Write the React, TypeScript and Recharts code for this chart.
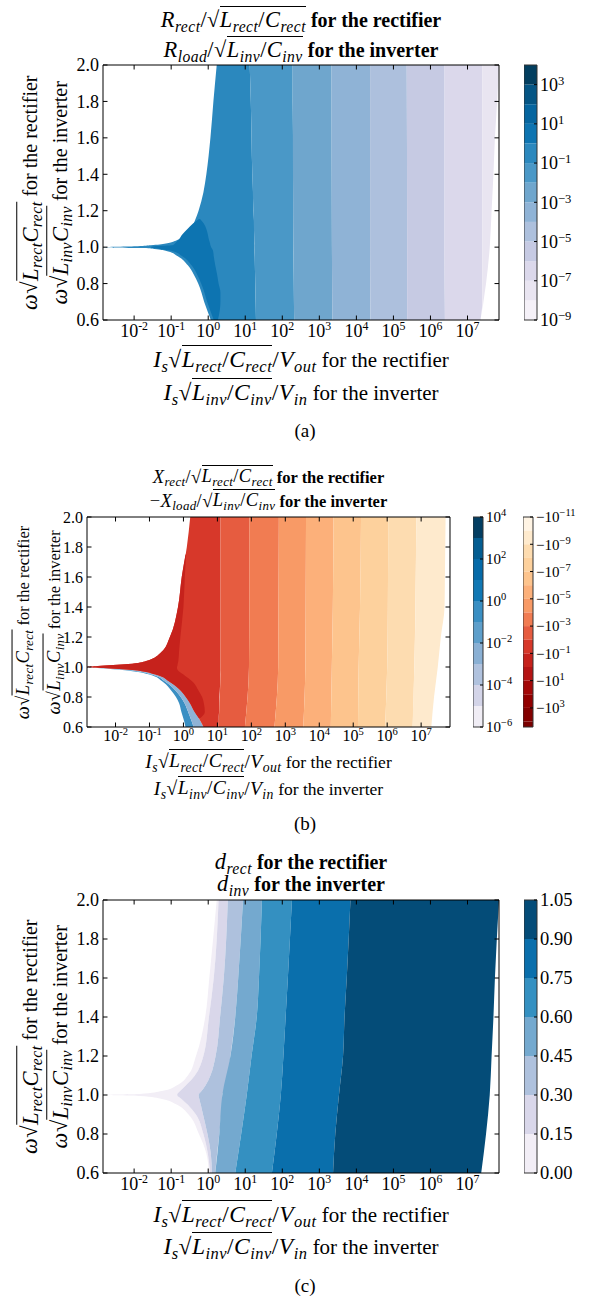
import React from "react";
import { ComposedChart, Area, XAxis, YAxis, ReferenceLine, ReferenceArea } from "recharts";

const SERIF = "'Liberation Serif', 'Times New Roman', Times, 'DejaVu Serif', serif";

type Row = [number, number, number]; // [y, left x, right x], x in log10
type Band = { color: string; rows: Row[] };
type Box = { x: number; y: number; w: number; h: number };

// axes shared by the three panels
const X_MIN = -2.84;
const X_MAX = 7.85;
const X_MAJOR = [-2, -1, 0, 1, 2, 3, 4, 5, 6, 7];
const DECADES = [-3, -2, -1, 0, 1, 2, 3, 4, 5, 6, 7];
const MULTS = [2, 3, 4, 5, 6, 7, 8, 9];
const X_MINOR = DECADES.flatMap((d) => MULTS.map((m) => d + Math.log10(m))).filter(
  (v) => v > X_MIN && v < X_MAX
);
const Y_TICKS = [0.6, 0.8, 1.0, 1.2, 1.4, 1.6, 1.8, 2.0];

// ---------- panel (a): R / sqrt(L/C) ----------
const A_LEVELS = [-9, -8, -7, -6, -5, -4, -3, -2, -1, 0, 1, 2, 3, 4];
const A_TICKS = [-9, -7, -5, -3, -1, 1, 3];
const A_COLORS = [
  "#f5f1f8", "#e9e5f1", "#dbd8eb", "#c6cae3", "#adc0dd", "#8fb3d6", "#6fa6cd",
  "#4a98c7", "#2b88be", "#0d74b1", "#05659f", "#045584", "#023e5f",
];
const A_B8: Row[] = [
  [0.6, 0.07, 1.29], [0.65, -0.02, 1.285], [0.7, -0.11, 1.28], [0.75, -0.18, 1.275],
  [0.8, -0.27, 1.27], [0.85, -0.39, 1.265], [0.9, -0.55, 1.26], [0.95, -0.82, 1.255],
  [0.98, -1.15, 1.25], [0.99, -1.45, 1.25], [0.995, -1.8, 1.25], [1.0, -2.84, 1.25],
  [1.005, -1.9, 1.25], [1.01, -1.55, 1.25], [1.02, -1.14, 1.245], [1.04, -0.82, 1.245],
  [1.07, -0.61, 1.24], [1.1, -0.47, 1.24], [1.15, -0.35, 1.235], [1.2, -0.26, 1.22],
  [1.3, -0.13, 1.21], [1.4, -0.05, 1.19], [1.6, 0.06, 1.17], [1.8, 0.14, 1.15], [2.0, 0.23, 1.12],
];
const A_LOBE: Row[] = [
  [0.6, 0.15, 0.26], [0.65, 0.06, 0.31], [0.7, -0.03, 0.33], [0.75, -0.1, 0.33],
  [0.8, -0.19, 0.28], [0.85, -0.3, 0.24], [0.9, -0.45, 0.19], [0.95, -0.7, 0.15],
  [0.98, -1.0, 0.13], [0.99, -1.3, 0.11], [1.0, -1.55, 0.08], [1.005, -1.45, 0.07],
  [1.01, -0.96, 0.06], [1.02, -0.9, 0.05], [1.04, -0.8, 0.02], [1.07, -0.7, -0.01],
  [1.1, -0.56, -0.05], [1.13, -0.41, -0.12], [1.155, -0.25, -0.22],
];
const A_B7: Row[] = [
  [0.6, 1.29, 2.32], [0.8, 1.27, 2.31], [1.0, 1.25, 2.3], [1.2, 1.22, 2.3],
  [1.4, 1.19, 2.29], [1.6, 1.17, 2.29], [1.8, 1.15, 2.28], [2.0, 1.12, 2.28],
];
const A_B6: Row[] = [[0.6, 2.32, 3.35], [1.0, 2.3, 3.34], [2.0, 2.28, 3.33]];
const A_B5: Row[] = [[0.6, 3.35, 4.38], [1.0, 3.34, 4.37], [2.0, 3.33, 4.37]];
const A_B4: Row[] = [[0.6, 4.38, 5.37], [1.0, 4.37, 5.37], [2.0, 4.37, 5.36]];
const A_B3: Row[] = [[0.6, 5.37, 6.39], [1.0, 5.37, 6.38], [2.0, 5.36, 6.38]];
const A_B2: Row[] = [[0.6, 6.39, 7.35], [0.7, 6.39, 7.4], [1.0, 6.38, 7.4], [2.0, 6.38, 7.4]];
const A_B1: Row[] = [
  [0.65, 7.4, 7.4], [0.7, 7.4, 7.43], [0.8, 7.4, 7.5], [1.0, 7.4, 7.6], [1.2, 7.4, 7.65],
  [1.4, 7.4, 7.7], [1.6, 7.4, 7.74], [1.8, 7.4, 7.8], [2.0, 7.4, 7.85],
];

// ---------- panel (b): X / sqrt(L/C) ----------
const B_POS_LEVELS = [-6, -5, -4, -3, -2, -1, 0, 1, 2, 3, 4];
const B_POS_TICKS = [-6, -4, -2, 0, 2, 4];
const B_POS_COLORS = [
  "#f0edf5", "#d3d4e8", "#b0c2de", "#8ab0d4", "#5e9fcb", "#3a8fc3", "#1178b4",
  "#066aa8", "#045d91", "#033e62",
];
const B_NEG_LEVELS = [-11, -10, -9, -8, -7, -6, -5, -4, -3, -2, -1, 0, 1, 2, 3, 4, 4.4];
const B_NEG_TICKS = [-11, -9, -7, -5, -3, -1, 1, 3];
const B_NEG_COLORS = [
  "#fff4e4", "#feeacd", "#fddcb0", "#fdd19d", "#fdc48d", "#fcb07a", "#f89a66", "#f17c52",
  "#e65c40", "#d7382a", "#c6221c", "#b51414", "#a30808", "#920000", "#830000", "#7a0000",
];
const B_BLUE_OUT: Row[] = [
  [0.6, 0.06, 0.3], [0.64, 0.02, 0.24], [0.67, -0.02, 0.19], [0.7, -0.06, 0.14],
  [0.76, -0.13, 0.03], [0.8, -0.22, -0.08], [0.84, -0.35, -0.22], [0.9, -0.6, -0.52],
  [0.95, -1.0, -0.93], [0.98, -1.8, -1.65], [0.993, -2.52, -2.45], [1.0, -2.84, -2.84],
];
const B_BLUE_IN: Row[] = [
  [0.6, 0.3, 0.59], [0.64, 0.24, 0.5], [0.67, 0.19, 0.42], [0.7, 0.14, 0.33],
  [0.76, 0.03, 0.19], [0.8, -0.08, 0.07], [0.84, -0.22, -0.07], [0.9, -0.52, -0.4],
  [0.95, -0.93, -0.82], [0.98, -1.65, -1.5], [0.993, -2.45, -2.35], [1.0, -2.84, -2.84],
];
const B_R1: Row[] = [
  [0.6, 0.59, 1.03], [0.64, 0.5, 1.04], [0.67, 0.42, 1.04], [0.7, 0.33, 1.05],
  [0.76, 0.19, 1.06], [0.8, 0.07, 1.06], [0.84, -0.07, 1.07], [0.9, -0.4, 1.08],
  [0.95, -0.82, 1.08], [0.98, -1.5, 1.09], [0.993, -2.35, 1.09], [1.0, -2.84, 1.09],
  [1.007, -2.52, 1.09], [1.02, -1.63, 1.09], [1.04, -1.1, 1.09], [1.1, -0.65, 1.09],
  [1.2, -0.4, 1.09], [1.4, -0.16, 1.09], [1.6, -0.05, 1.09], [1.8, 0.1, 1.09], [2.0, 0.2, 1.09],
];
const B_DARK: Row[] = [
  [0.66, 0.45, 0.5], [0.7, 0.33, 0.63], [0.76, 0.19, 0.6], [0.8, 0.07, 0.55],
  [0.84, -0.07, 0.45], [0.9, -0.4, 0.28], [0.95, -0.82, 0.0], [0.98, -1.5, -0.17],
  [0.993, -2.35, -0.19], [1.0, -2.84, -0.19], [1.007, -2.52, -0.18], [1.02, -1.63, -0.17],
  [1.04, -1.1, -0.15], [1.1, -0.65, -0.13], [1.2, -0.4, -0.09], [1.4, -0.16, 0.0],
  [1.6, -0.05, 0.04], [1.75, 0.06, 0.08],
];
const B_R2: Row[] = [[0.6, 1.03, 1.81], [1.0, 1.09, 1.93], [1.4, 1.09, 1.94], [2.0, 1.09, 1.94]];
const B_R3: Row[] = [[0.6, 1.81, 2.68], [1.0, 1.93, 2.79], [1.4, 1.94, 2.8], [2.0, 1.94, 2.81]];
const B_R4: Row[] = [[0.6, 2.68, 3.53], [1.0, 2.79, 3.59], [1.4, 2.8, 3.6], [2.0, 2.81, 3.61]];
const B_R5: Row[] = [[0.6, 3.53, 4.34], [1.0, 3.59, 4.37], [1.4, 3.6, 4.4], [2.0, 3.61, 4.42]];
const B_R6: Row[] = [[0.6, 4.34, 5.14], [1.0, 4.37, 5.16], [1.4, 4.4, 5.2], [2.0, 4.42, 5.23]];
const B_R7: Row[] = [[0.6, 5.14, 5.94], [1.0, 5.16, 6.0], [1.4, 5.2, 6.02], [2.0, 5.23, 6.03]];
const B_R8: Row[] = [[0.6, 5.94, 6.75], [1.0, 6.0, 6.8], [1.4, 6.02, 6.83], [2.0, 6.03, 6.86]];
const B_R9: Row[] = [
  [0.6, 6.75, 7.3], [0.8, 6.77, 7.38], [1.0, 6.8, 7.49], [1.2, 6.82, 7.58],
  [1.4, 6.83, 7.69], [1.6, 6.84, 7.7], [2.0, 6.86, 7.72],
];

// ---------- panel (c): duty ratio d ----------
const C_LEVELS = [0, 0.15, 0.3, 0.45, 0.6, 0.75, 0.9, 1.05];
const C_COLORS = ["#f2eef6", "#d9d7ea", "#aec1dd", "#74a9cf", "#3490c1", "#0a6fac", "#044c78"];
const C_B0: Row[] = [
  [0.6, 0.02, 0.05], [0.7, -0.05, -0.01], [0.8, -0.25, -0.13], [0.9, -0.53, -0.33],
  [0.95, -0.84, -0.55], [0.98, -1.25, -0.72], [0.995, -1.85, -0.82], [1.0, -2.84, -0.84],
  [1.005, -1.85, -0.82], [1.02, -1.25, -0.76], [1.05, -0.84, -0.6], [1.1, -0.55, -0.36],
  [1.2, -0.33, -0.13], [1.4, -0.08, 0.02], [1.6, 0.03, 0.15], [2.0, 0.23, 0.28],
];
const C_B1: Row[] = [
  [0.6, 0.05, 0.1], [0.7, -0.01, 0.07], [0.8, -0.13, -0.02], [0.9, -0.33, -0.14],
  [0.95, -0.55, -0.2], [0.98, -0.72, -0.24], [1.0, -0.84, -0.26], [1.02, -0.76, -0.18],
  [1.05, -0.6, -0.07], [1.1, -0.36, 0.06], [1.2, -0.13, 0.2], [1.4, 0.02, 0.32],
  [1.6, 0.15, 0.42], [2.0, 0.28, 0.53],
];
const C_B2: Row[] = [
  [0.6, 0.1, 0.19], [0.7, 0.07, 0.24], [0.8, -0.02, 0.3], [0.9, -0.14, 0.35],
  [0.95, -0.2, 0.37], [0.98, -0.24, 0.38], [1.0, -0.26, 0.38], [1.02, -0.18, 0.42],
  [1.05, -0.07, 0.46], [1.1, 0.06, 0.53], [1.2, 0.2, 0.6], [1.4, 0.32, 0.73],
  [1.6, 0.42, 0.81], [2.0, 0.53, 0.94],
];
const C_B3: Row[] = [
  [0.6, 0.19, 0.73], [0.8, 0.3, 0.89], [1.0, 0.38, 1.04], [1.2, 0.6, 1.17],
  [1.4, 0.73, 1.31], [1.6, 0.81, 1.37], [2.0, 0.94, 1.45],
];
const C_B4: Row[] = [
  [0.6, 0.73, 1.72], [0.8, 0.89, 1.85], [1.0, 1.04, 1.96], [1.2, 1.17, 2.03],
  [1.4, 1.31, 2.09], [1.6, 1.37, 2.15], [2.0, 1.45, 2.26],
];
const C_B5: Row[] = [
  [0.6, 1.72, 3.37], [0.8, 1.85, 3.43], [1.0, 1.96, 3.53], [1.2, 2.03, 3.64],
  [1.4, 2.09, 3.68], [1.6, 2.15, 3.74], [2.0, 2.26, 3.84],
];
const C_B6: Row[] = [
  [0.6, 3.37, 7.37], [0.8, 3.43, 7.5], [1.0, 3.53, 7.6], [1.2, 3.64, 7.65],
  [1.4, 3.68, 7.7], [1.6, 3.74, 7.74], [2.0, 3.84, 7.85],
];

const BANDS_A: Band[] = [
  { color: A_COLORS[8], rows: A_B8 },
  { color: A_COLORS[9], rows: A_LOBE },
  { color: A_COLORS[7], rows: A_B7 },
  { color: A_COLORS[6], rows: A_B6 },
  { color: A_COLORS[5], rows: A_B5 },
  { color: A_COLORS[4], rows: A_B4 },
  { color: A_COLORS[3], rows: A_B3 },
  { color: A_COLORS[2], rows: A_B2 },
  { color: A_COLORS[1], rows: A_B1 },
];
const BANDS_B: Band[] = [
  { color: "#3a8fc3", rows: B_BLUE_OUT },
  { color: "#8fb3d6", rows: B_BLUE_IN },
  { color: B_NEG_COLORS[9], rows: B_R1 },
  { color: B_NEG_COLORS[10], rows: B_DARK },
  { color: B_NEG_COLORS[8], rows: B_R2 },
  { color: B_NEG_COLORS[7], rows: B_R3 },
  { color: B_NEG_COLORS[6], rows: B_R4 },
  { color: B_NEG_COLORS[5], rows: B_R5 },
  { color: B_NEG_COLORS[4], rows: B_R6 },
  { color: B_NEG_COLORS[3], rows: B_R7 },
  { color: B_NEG_COLORS[2], rows: B_R8 },
  { color: B_NEG_COLORS[1], rows: B_R9 },
];
const BANDS_C: Band[] = [
  { color: C_COLORS[0], rows: C_B0 },
  { color: C_COLORS[1], rows: C_B1 },
  { color: C_COLORS[2], rows: C_B2 },
  { color: C_COLORS[3], rows: C_B3 },
  { color: C_COLORS[4], rows: C_B4 },
  { color: C_COLORS[5], rows: C_B5 },
  { color: C_COLORS[6], rows: C_B6 },
];

const PA: Box = { x: 103, y: 65, w: 396, h: 255 };
const PB: Box = { x: 87, y: 517, w: 363, h: 210 };
const PC: Box = { x: 103, y: 900, w: 396, h: 273 };

const minus = (v: number) => (v < 0 ? `\u2212${Math.abs(v)}` : `${v}`);

function Contour({ box, bands, fs, xOff }: { box: Box; bands: Band[]; fs: number; xOff: number }) {
  const ML = 60, MT = 14, MR = 6, XH = 30;
  const { w, h } = box;
  const majorTick = (p: any) => (
    <g>
      <line x1={p.x} x2={p.x} y1={p.y} y2={p.y - 4.5} stroke="#000" />
      <line x1={p.x} x2={p.x} y1={p.y - h} y2={p.y - h + 4.5} stroke="#000" />
      <text x={p.x} y={p.y + xOff} textAnchor="middle" fontSize={fs} fontFamily={SERIF} fill="#000">
        10<tspan dy={-fs * 0.4} fontSize={fs * 0.66}>{p.payload.value}</tspan>
      </text>
    </g>
  );
  const minorTick = (p: any) => (
    <g>
      <line x1={p.x} x2={p.x} y1={p.y} y2={p.y + 2.5} stroke="#000" />
      <line x1={p.x} x2={p.x} y1={p.y + h} y2={p.y + h - 2.5} stroke="#000" />
    </g>
  );
  const yTick = (p: any) => (
    <g>
      <line x1={p.x} x2={p.x + 4.5} y1={p.y} y2={p.y} stroke="#000" />
      <line x1={p.x + w} x2={p.x + w - 4.5} y1={p.y} y2={p.y} stroke="#000" />
      <text x={p.x - 4} y={p.y} dy="0.35em" textAnchor="end" fontSize={fs} fontFamily={SERIF} fill="#000">
        {Number(p.payload.value).toFixed(1)}
      </text>
    </g>
  );
  return (
    <div style={{ position: "absolute", left: box.x - ML, top: box.y - MT }}>
      <ComposedChart
        layout="vertical"
        width={ML + w + MR}
        height={MT + h + XH}
        margin={{ top: MT, right: MR, bottom: 0, left: 0 }}
      >
        {bands.map((b, i) => (
          <Area
            key={i}
            xAxisId="b"
            yAxisId="l"
            data={b.rows.map(([y, lo, hi]) => ({ y, v: [lo, hi] }))}
            dataKey="v"
            type="monotone"
            fill={b.color}
            fillOpacity={1}
            stroke="none"
            dot={false}
            activeDot={false}
            isAnimationActive={false}
          />
        ))}
        <XAxis
          xAxisId="b"
          type="number"
          orientation="bottom"
          domain={[X_MIN, X_MAX]}
          allowDataOverflow
          ticks={X_MAJOR}
          interval={0}
          height={XH}
          tickSize={0}
          tickMargin={0}
          tickLine={false}
          axisLine={{ stroke: "#000" }}
          tick={majorTick}
        />
        <XAxis
          xAxisId="t"
          type="number"
          orientation="top"
          domain={[X_MIN, X_MAX]}
          allowDataOverflow
          ticks={X_MINOR}
          interval={0}
          height={0}
          tickSize={0}
          tickMargin={0}
          tickLine={false}
          axisLine={false}
          tick={minorTick}
        />
        <YAxis
          yAxisId="l"
          type="number"
          dataKey="y"
          reversed
          domain={[0.6, 2.0]}
          allowDataOverflow
          ticks={Y_TICKS}
          interval={0}
          width={ML}
          tickSize={0}
          tickMargin={0}
          tickLine={false}
          axisLine={{ stroke: "#000" }}
          tick={yTick}
        />
        <ReferenceLine xAxisId="b" yAxisId="l" x={X_MAX} stroke="#000" ifOverflow="visible" />
        <ReferenceLine xAxisId="b" yAxisId="l" y={2.0} stroke="#000" ifOverflow="visible" />
      </ComposedChart>
    </div>
  );
}

function ColorBar({
  box, levels, colors, ticks, fs, reversed, label,
}: {
  box: Box; levels: number[]; colors: string[]; ticks: number[]; fs: number; reversed?: boolean;
  label: (v: number) => React.ReactNode;
}) {
  const LW = 60, M = 12;
  const lo = levels[0], hi = levels[levels.length - 1];
  const tick = (p: any) => (
    <g>
      <line x1={p.x - 3} x2={p.x} y1={p.y} y2={p.y} stroke="#000" />
      <text x={p.x + 3} y={p.y} dy="0.35em" fontSize={fs} fontFamily={SERIF} fill="#000">
        {label(p.payload.value)}
      </text>
    </g>
  );
  return (
    <div style={{ position: "absolute", left: box.x, top: box.y - M }}>
      <ComposedChart width={box.w + LW} height={box.h + 2 * M} margin={{ top: M, bottom: M, left: 0, right: 0 }} data={[{ x: 0 }, { x: 1 }]}>
        <XAxis type="number" dataKey="x" domain={[0, 1]} hide />
        <YAxis
          type="number"
          orientation="right"
          domain={[lo, hi]}
          reversed={reversed}
          allowDataOverflow
          ticks={ticks}
          interval={0}
          width={LW}
          tickSize={0}
          tickMargin={0}
          tickLine={false}
          axisLine={false}
          tick={tick}
        />
        {colors.map((c, i) => (
          <ReferenceArea key={i} y1={levels[i]} y2={levels[i + 1]} fill={c} fillOpacity={1} stroke="none" ifOverflow="visible" />
        ))}
        <ReferenceArea y1={lo} y2={hi} fill="none" stroke="#333" strokeWidth={1} ifOverflow="visible" />
      </ComposedChart>
    </div>
  );
}

// ---------- text helpers ----------
const Sub = ({ c }: { c: string }) => (
  <i style={{ fontSize: "0.7em", position: "relative", top: "0.3em" }}>{c}</i>
);
const Rad = ({ children }: { children: React.ReactNode }) => (
  <>
    <span>√</span>
    <span style={{ borderTop: "1.3px solid #000", paddingTop: "0.02em" }}>{children}</span>
  </>
);
const M = ({ children }: { children: React.ReactNode }) => (
  <span style={{ fontSize: "1.12em", letterSpacing: "0.02em" }}>{children}</span>
);

function HLine({ cx, base, size, children, w = 460 }: { cx: number; base: number; size: number; children: React.ReactNode; w?: number }) {
  return (
    <div
      style={{
        position: "absolute", left: cx - w / 2, top: base - 0.9375 * size, width: w,
        textAlign: "center", fontSize: size, lineHeight: `${1.2 * size}px`, whiteSpace: "nowrap",
        fontFamily: SERIF, color: "#000",
      }}
    >
      {children}
    </div>
  );
}

function VLine({ bx, cy, size, children, w = 360 }: { bx: number; cy: number; size: number; children: React.ReactNode; w?: number }) {
  const b = 0.9375 * size;
  return (
    <div
      style={{
        position: "absolute", left: bx - w / 2, top: cy - b, width: w, textAlign: "center",
        fontSize: size, lineHeight: `${1.2 * size}px`, whiteSpace: "nowrap", fontFamily: SERIF,
        transform: "rotate(-90deg)", transformOrigin: `${w / 2}px ${b}px`, color: "#000",
      }}
    >
      {children}
    </div>
  );
}

const XLab1 = () => (
  <>
    <M><i>I</i><Sub c="s" /><Rad><i>L</i><Sub c="rect" />/<i>C</i><Sub c="rect" /></Rad>/<i>V</i><Sub c="out" /></M> for the rectifier
  </>
);
const XLab2 = () => (
  <>
    <M><i>I</i><Sub c="s" /><Rad><i>L</i><Sub c="inv" />/<i>C</i><Sub c="inv" /></Rad>/<i>V</i><Sub c="in" /></M> for the inverter
  </>
);
const YLab1 = () => (
  <>
    <M><i>ω</i><Rad><i>L</i><Sub c="rect" /><i>C</i><Sub c="rect" /></Rad></M> for the rectifier
  </>
);
const YLab2 = () => (
  <>
    <M><i>ω</i><Rad><i>L</i><Sub c="inv" /><i>C</i><Sub c="inv" /></Rad></M> for the inverter
  </>
);

const pow10 = (v: number) => (
  <>
    10<tspan dy={-6} fontSize="0.7em">{minus(v)}</tspan>
  </>
);
const negPow10 = (v: number) => (
  <>
    {"\u221210"}<tspan dy={-6} fontSize="0.7em">{minus(v)}</tspan>
  </>
);

export default function App() {
  const cxA = PA.x + PA.w / 2;
  const cxB = PB.x + PB.w / 2;
  const cxC = PC.x + PC.w / 2;
  return (
    <div style={{ position: "absolute", left: 0, top: 0, width: 591, height: 1297, background: "#fff", fontFamily: SERIF }}>
      {/* (a) */}
      <HLine cx={cxA} base={27} size={20}>
        <M><i>R</i><Sub c="rect" />/<Rad><i>L</i><Sub c="rect" />/<i>C</i><Sub c="rect" /></Rad></M> <b>for the rectifier</b>
      </HLine>
      <HLine cx={cxA} base={57} size={20}>
        <M><i>R</i><Sub c="load" />/<Rad><i>L</i><Sub c="inv" />/<i>C</i><Sub c="inv" /></Rad></M> <b>for the inverter</b>
      </HLine>
      <Contour box={PA} bands={BANDS_A} fs={18} xOff={17} />
      <ColorBar box={{ x: 524, y: 65, w: 13, h: 255 }} levels={A_LEVELS} colors={A_COLORS} ticks={A_TICKS} fs={18} label={pow10} />
      <VLine bx={37} cy={PA.y + PA.h / 2} size={20}><YLab1 /></VLine>
      <VLine bx={67} cy={PA.y + PA.h / 2} size={20}><YLab2 /></VLine>
      <HLine cx={cxA} base={367} size={21}><XLab1 /></HLine>
      <HLine cx={cxA} base={400} size={21}><XLab2 /></HLine>
      <HLine cx={305} base={438} size={19}>(a)</HLine>

      {/* (b) */}
      <HLine cx={cxB} base={483} size={16.5}>
        <M><i>X</i><Sub c="rect" />/<Rad><i>L</i><Sub c="rect" />/<i>C</i><Sub c="rect" /></Rad></M> <b>for the rectifier</b>
      </HLine>
      <HLine cx={cxB} base={507} size={16.5}>
        <M>−<i>X</i><Sub c="load" />/<Rad><i>L</i><Sub c="inv" />/<i>C</i><Sub c="inv" /></Rad></M> <b>for the inverter</b>
      </HLine>
      <Contour box={PB} bands={BANDS_B} fs={16} xOff={14} />
      <ColorBar box={{ x: 473, y: 517, w: 10, h: 210 }} levels={B_POS_LEVELS} colors={B_POS_COLORS} ticks={B_POS_TICKS} fs={15} label={pow10} />
      <ColorBar box={{ x: 523, y: 517, w: 10, h: 210 }} levels={B_NEG_LEVELS} colors={B_NEG_COLORS} ticks={B_NEG_TICKS} fs={15} reversed label={negPow10} />
      <VLine bx={29} cy={PB.y + PB.h / 2} size={16.5}><YLab1 /></VLine>
      <VLine bx={60} cy={PB.y + PB.h / 2} size={16.5}><YLab2 /></VLine>
      <HLine cx={cxB} base={767} size={17.5}><XLab1 /></HLine>
      <HLine cx={cxB} base={794} size={17.5}><XLab2 /></HLine>
      <HLine cx={305} base={831} size={19}>(b)</HLine>

      {/* (c) */}
      <HLine cx={cxC} base={869} size={20}>
        <M><i>d</i><Sub c="rect" /></M> <b>for the rectifier</b>
      </HLine>
      <HLine cx={cxC} base={891} size={20}>
        <M><i>d</i><Sub c="inv" /></M> <b>for the inverter</b>
      </HLine>
      <Contour box={PC} bands={BANDS_C} fs={18} xOff={17} />
      <ColorBar
        box={{ x: 524, y: 900, w: 13, h: 273 }}
        levels={C_LEVELS}
        colors={C_COLORS}
        ticks={C_LEVELS}
        fs={18.5}
        label={(v) => v.toFixed(2)}
      />
      <VLine bx={37} cy={PC.y + PC.h / 2} size={20}><YLab1 /></VLine>
      <VLine bx={67} cy={PC.y + PC.h / 2} size={20}><YLab2 /></VLine>
      <HLine cx={cxC} base={1222} size={21}><XLab1 /></HLine>
      <HLine cx={cxC} base={1254} size={21}><XLab2 /></HLine>
      <HLine cx={305} base={1293} size={19}>(c)</HLine>
    </div>
  );
}
